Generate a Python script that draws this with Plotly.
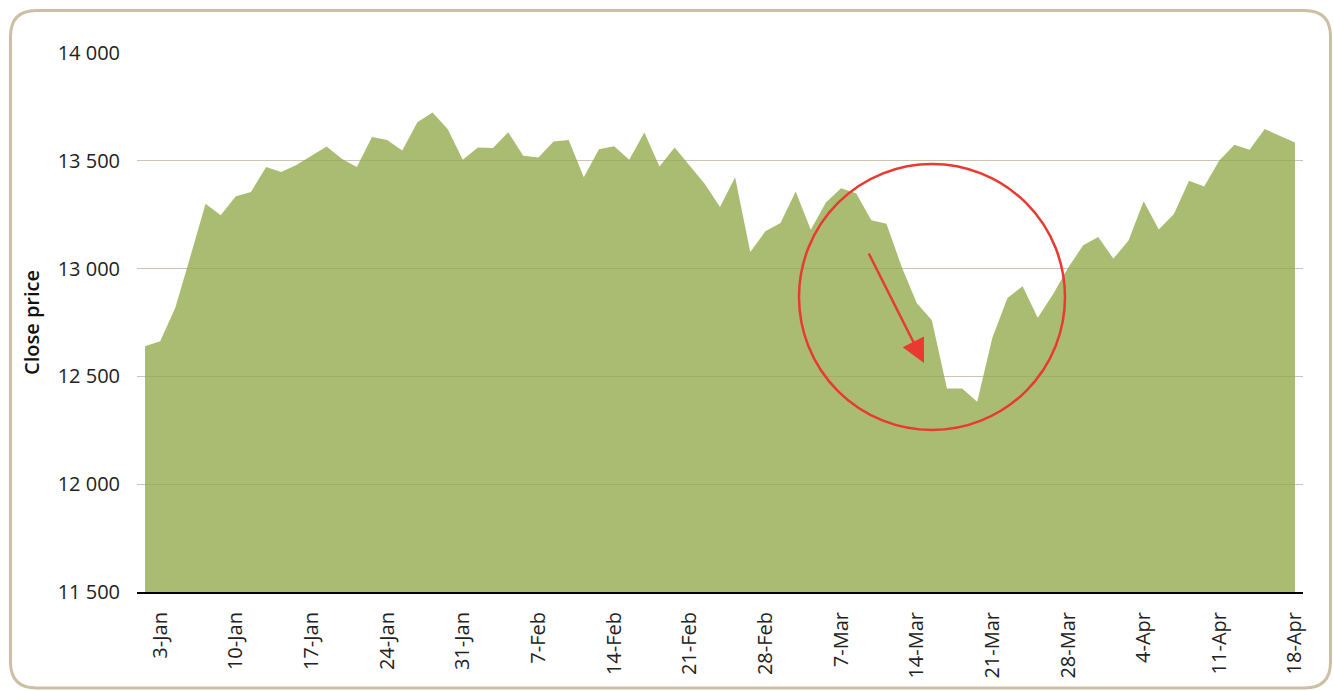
import plotly.graph_objects as go

# trading days (weekends + US market holidays are absent)
dates = [
    "2021-12-31",
    "2022-01-03", "2022-01-04", "2022-01-05", "2022-01-06", "2022-01-07",
    "2022-01-10", "2022-01-11", "2022-01-12", "2022-01-13", "2022-01-14",
    "2022-01-18", "2022-01-19", "2022-01-20", "2022-01-21",
    "2022-01-24", "2022-01-25", "2022-01-26", "2022-01-27", "2022-01-28",
    "2022-01-31", "2022-02-01", "2022-02-02", "2022-02-03", "2022-02-04",
    "2022-02-07", "2022-02-08", "2022-02-09", "2022-02-10", "2022-02-11",
    "2022-02-14", "2022-02-15", "2022-02-16", "2022-02-17", "2022-02-18",
    "2022-02-22", "2022-02-23", "2022-02-24", "2022-02-25",
    "2022-02-28", "2022-03-01", "2022-03-02", "2022-03-03", "2022-03-04",
    "2022-03-07", "2022-03-08", "2022-03-09", "2022-03-10", "2022-03-11",
    "2022-03-14", "2022-03-15", "2022-03-16", "2022-03-17", "2022-03-18",
    "2022-03-21", "2022-03-22", "2022-03-23", "2022-03-24", "2022-03-25",
    "2022-03-28", "2022-03-29", "2022-03-30", "2022-03-31", "2022-04-01",
    "2022-04-04", "2022-04-05", "2022-04-06", "2022-04-07", "2022-04-08",
    "2022-04-11", "2022-04-12", "2022-04-13", "2022-04-14",
    "2022-04-18",
]

close_price = [
    12640,
    12663, 12818, 13057, 13301, 13247,
    13335, 13355, 13471, 13448, 13481,
    13566, 13509, 13471, 13610,
    13597, 13548, 13679, 13724, 13648,
    13505, 13562, 13559, 13633, 13523,
    13515, 13589, 13596, 13424, 13554,
    13568, 13505, 13631, 13474, 13562,
    13392, 13286, 13424, 13077,
    13173, 13211, 13358, 13180, 13307,
    13373, 13350, 13224, 13208, 13010,
    12841, 12761, 12444, 12444, 12383,
    12679, 12864, 12918, 12772, 12880,
    13003, 13108, 13147, 13046, 13130,
    13312, 13181, 13253, 13407, 13381,
    13501, 13574, 13551, 13647,
    13585,
]

tick_dates = ["2022-01-03", "2022-01-10", "2022-01-17", "2022-01-24", "2022-01-31",
              "2022-02-07", "2022-02-14", "2022-02-21", "2022-02-28", "2022-03-07",
              "2022-03-14", "2022-03-21", "2022-03-28", "2022-04-04", "2022-04-11",
              "2022-04-18"]
tick_labels = ["3-Jan", "10-Jan", "17-Jan", "24-Jan", "31-Jan", "7-Feb", "14-Feb",
               "21-Feb", "28-Feb", "7-Mar", "14-Mar", "21-Mar", "28-Mar", "4-Apr",
               "11-Apr", "18-Apr"]

y_ticks = [11500, 12000, 12500, 13000, 13500, 14000]

## Layout geometry (pixels)
W, H = 1333, 691
ml, mr, mt, mb = 137, 30, 53, 99
pw = W - ml - mr
ph = H - mt - mb


def px2x(p):
    return (p - ml) / pw


def px2y(p):
    return (H - mb - p) / ph


def rounded_rect(x0, y0, x1, y1, r):
    # path in paper coords for a rectangle with round corners (pixels in)
    pts = [
        ("M", x0 + r, y0), ("L", x1 - r, y0), ("Q", x1, y0, x1, y0 + r),
        ("L", x1, y1 - r), ("Q", x1, y1, x1 - r, y1),
        ("L", x0 + r, y1), ("Q", x0, y1, x0, y1 - r),
        ("L", x0, y0 + r), ("Q", x0, y0, x0 + r, y0),
    ]
    path = ""
    for p in pts:
        cmd = p[0]
        coords = p[1:]
        s = []
        for i in range(0, len(coords), 2):
            s.append(f"{px2x(coords[i]):.5f},{px2y(coords[i + 1]):.5f}")
        path += cmd + " " + " ".join(s) + " "
    return path + "Z"


fig = go.Figure()

fig.add_trace(
    go.Scatter(
        x=dates,
        y=close_price,
        mode="none",
        fill="tozeroy",
        fillcolor="rgba(145,169,74,0.78)",
        hoverinfo="x+y",
    )
)

fig.update_xaxes(
    type="date",
    rangebreaks=[dict(bounds=["sat", "mon"])],
    range=["2021-12-30 11:15", "2022-04-18 12:45"],
    tickvals=tick_dates,
    ticktext=tick_labels,
    tickangle=-90,
    ticks="",
    ticklabelstandoff=10,
    showgrid=False,
    showline=True,
    linecolor="black",
    linewidth=2,
    zeroline=False,
    tickfont=dict(family="Open Sans", size=20, color="#222222"),
)

fig.update_yaxes(
    range=[11500, 14000],
    tickvals=y_ticks,
    tickformat=",d",
    ticks="",
    ticklabelstandoff=16,
    showgrid=True,
    gridcolor="#cbc4b3",
    gridwidth=1,
    zeroline=False,
    showline=False,
    tickfont=dict(family="Open Sans", size=20, color="#222222"),
    title=dict(text="Close price", standoff=12,
               font=dict(family="Open Sans", size=20, color="#111111", weight=600)),
)

fig.add_shape(
    type="path",
    xref="paper", yref="paper",
    path=rounded_rect(10.5, 10.5, 1330.5, 688, 26),
    line=dict(color="#cdbfa3", width=3),
    layer="above",
)

fig.add_shape(
    type="circle",
    xref="paper", yref="paper",
    x0=px2x(799), x1=px2x(1065),
    y0=px2y(430), y1=px2y(164),
    line=dict(color="#e83a30", width=2.5),
    layer="above",
)

fig.add_annotation(
    xref="paper", yref="paper",
    x=px2x(924), y=px2y(363),
    ax=868 - 924, ay=252 - 363,
    text="",
    showarrow=True,
    arrowhead=2,
    arrowsize=1.9,
    arrowwidth=2.5,
    arrowcolor="#e83a30",
)

fig.update_layout(
    width=W,
    height=H,
    showlegend=False,
    separators=". ",
    plot_bgcolor="white",
    paper_bgcolor="white",
    margin=dict(l=ml, r=mr, t=mt, b=mb),
    font=dict(family="Open Sans", color="#222222"),
)

# page has a default body margin; drop it so the figure sits at 0,0
fig.write_html("out.html", config={"displayModeBar": False},
               post_script="document.body.style.margin='0';")
